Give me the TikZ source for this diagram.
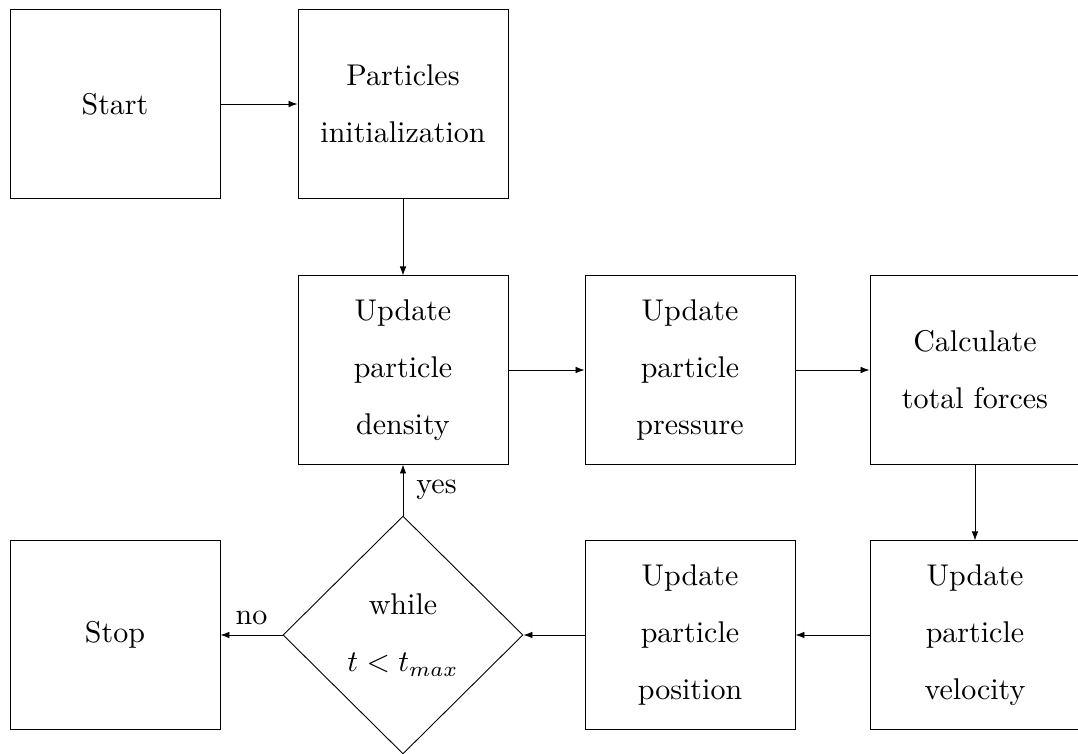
\documentclass[tikz,border=0pt]{standalone}
\usetikzlibrary{shapes.geometric,arrows.meta}
\begin{document}
\begin{tikzpicture}[x=1pt/3,y=-1pt/3,
  box/.style={draw,line width=0.3pt,minimum width=70pt,minimum height=62.7pt,inner sep=0pt,align=center,font={\fontsize{10}{19}\selectfont}},
  dia/.style={draw,line width=0.3pt,diamond,minimum width=80pt,minimum height=79.3pt,inner sep=0pt,align=center,font={\fontsize{10}{19}\selectfont}},
  arr/.style={-{Latex[length=3pt,width=2.2pt]},line width=0.3pt},
  lbl/.style={font=\fontsize{10}{12}\selectfont}]
\useasboundingbox (0,0) rectangle (1078,754);
\clip (0,0) rectangle (1078,754);
\node[box] (start) at (115,104) {Start};
\node[box] (init) at (403,104) {Particles\\initialization};
\node[box] (dens) at (403,370) {Update\\particle\\density};
\node[box] (pres) at (690,370) {Update\\particle\\pressure};
\node[box] (force) at (975,370) {Calculate\\total forces};
\node[box] (vel) at (975,635) {Update\\particle\\velocity};
\node[box] (pos) at (690,635) {Update\\particle\\position};
\node[dia] (while) at (403,635) {while\\$t<t_{max}$};
\node[box] (stop) at (115,635) {Stop};
\draw[arr] (start) -- (init);
\draw[arr] (init) -- (dens);
\draw[arr] (dens) -- (pres);
\draw[arr] (pres) -- (force);
\draw[arr] (force) -- (vel);
\draw[arr] (vel) -- (pos);
\draw[arr] (pos) -- (while.east);
\draw[arr] (while.north) -- node[lbl,anchor=west,xshift=1pt] {yes} (dens);
\draw[arr] (while.west) -- node[lbl,anchor=south] {no} (stop);
\end{tikzpicture}
\end{document}
